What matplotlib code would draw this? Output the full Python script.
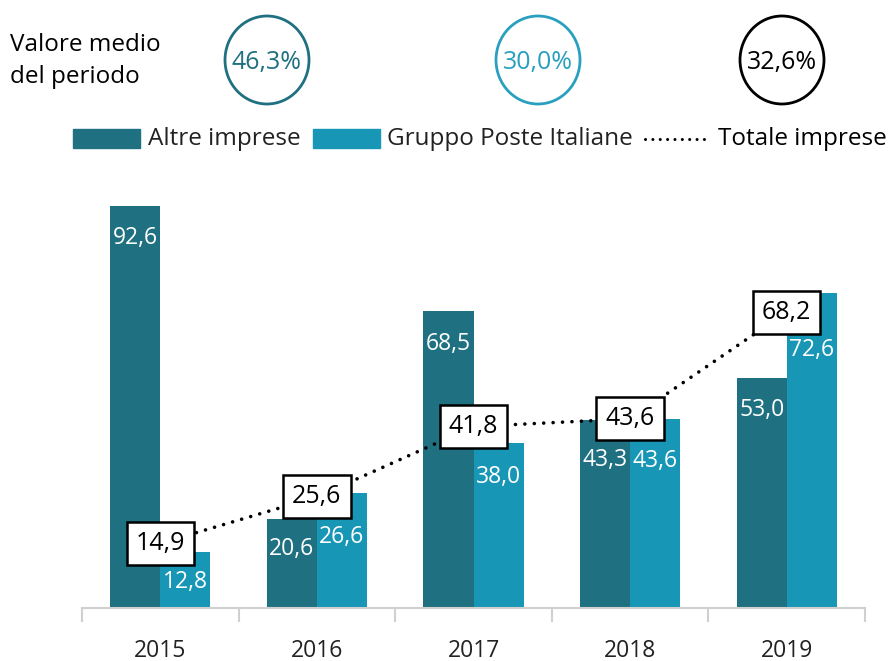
import matplotlib.pyplot as plt
from matplotlib.patches import Ellipse, Rectangle
from matplotlib.lines import Line2D
import numpy as np

plt.rcParams['font.family'] = ['Open Sans', 'DejaVu Sans']

# Dati
anni = ['2015', '2016', '2017', '2018', '2019']
altre_imprese = [92.6, 20.6, 68.5, 43.3, 53.0]
gruppo_poste = [12.8, 26.6, 38.0, 43.6, 72.6]
totale_imprese = [14.9, 25.6, 41.8, 43.6, 68.2]
medie_periodo = ['46,3%', '30,0%', '32,6%']

# distanza (pixel) delle etichette sotto la cima della barra
off_altre = [32, 30, 33, 40, 32]
off_poste = [30, 44, 34, 42, 57]

col_altre = '#1f7080'
col_poste = '#1896b6'
col_grigio = '#d0d0d0'

fig = plt.figure(figsize=(8.92, 6.61), dpi=100)
ax = fig.add_axes([82 / 892, 1 - 608 / 661, 783 / 892, 434 / 661])

x = np.arange(len(anni))
w = 0.32
b1 = ax.bar(x - w / 2, altre_imprese, w, color=col_altre, zorder=2)
b2 = ax.bar(x + w / 2, gruppo_poste, w, color=col_poste, zorder=2)

def virgola(v):
    return f'{v:.1f}'.replace('.', ',')

# etichette dentro le barre
for barre, valori, offs in [(b1, altre_imprese, off_altre), (b2, gruppo_poste, off_poste)]:
    for r, v, o in zip(barre, valori, offs):
        ax.annotate(virgola(v), (r.get_x() + r.get_width() / 2, v),
                    xytext=(0, -o), textcoords='offset pixels',
                    ha='center', va='center', color='white', fontsize=16.5, zorder=3)

# linea totale
ax.plot(x, totale_imprese, color='black', lw=2.6, ls=(0, (0.01, 2.6)),
        dash_capstyle='round', zorder=4)
for xi, v in zip(x, totale_imprese):
    ax.text(xi, v, virgola(v), ha='center', va='center', fontsize=18,
            color='black', zorder=5,
            bbox=dict(boxstyle='square,pad=0.36', fc='white', ec='black', lw=1.8))

ax.set_xlim(-0.5, len(anni) - 0.5)
ax.set_ylim(0, 100)
for s in ['top', 'right', 'left']:
    ax.spines[s].set_visible(False)
ax.spines['bottom'].set_color(col_grigio)
ax.spines['bottom'].set_linewidth(1.5)
ax.set_yticks([])
ax.set_xticks(x)
ax.set_xticklabels(anni, fontsize=16.5, color='#222222')
ax.tick_params(axis='x', which='major', length=0, pad=22)
ax.set_xticks(np.arange(-0.5, len(anni)), minor=True)
ax.tick_params(axis='x', which='minor', length=10, width=1.5, color=col_grigio)

# valore medio del periodo
fig.text(10 / 892, 1 - 61 / 661, 'Valore medio\ndel periodo', ha='left', va='center',
         fontsize=17.5, linespacing=1.45)
cerchi = [(267, col_altre), (538, '#29a0bf'), (782, 'black')]
for (cx, c), t in zip(cerchi, medie_periodo):
    e = Ellipse((cx / 100, (661 - 60) / 100), 0.84, 0.88, transform=fig.dpi_scale_trans,
                fill=False, ec=c, lw=2)
    fig.add_artist(e)
    fig.text(cx / 892, 1 - 62 / 661, t, ha='center', va='center', fontsize=18, color=c)

# legenda
ly = 1 - 139 / 661
fig.add_artist(Rectangle((73 / 892, 1 - 148 / 661), 67 / 892, 19 / 661,
                         transform=fig.transFigure, color=col_altre))
fig.text(148 / 892, ly, 'Altre imprese', va='center', fontsize=17.5, color='#222222')
fig.add_artist(Rectangle((313 / 892, 1 - 148 / 661), 67 / 892, 19 / 661,
                         transform=fig.transFigure, color=col_poste))
fig.text(387 / 892, ly, 'Gruppo Poste Italiane', va='center', fontsize=17.5, color='#222222')
fig.add_artist(Line2D([645 / 892, 707 / 892], [ly, ly], transform=fig.transFigure,
                      color='black', lw=2.2, ls=(0, (0.01, 2.4)), dash_capstyle='round'))
fig.text(718 / 892, ly, 'Totale imprese', va='center', fontsize=17.5, color='black')

fig.savefig('out.png', dpi=100)
